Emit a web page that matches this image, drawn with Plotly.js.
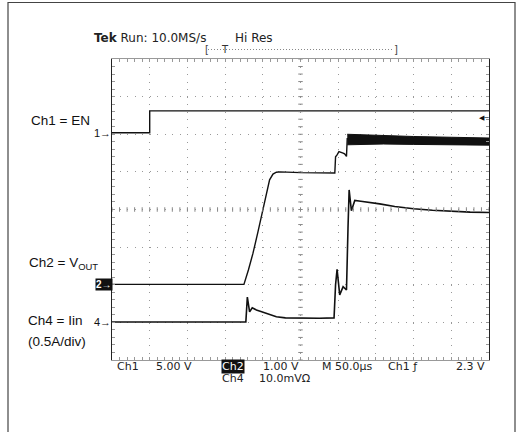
<!DOCTYPE html>
<html><head><meta charset="utf-8">
<script src="https://cdn.plot.ly/plotly-3.0.1.min.js"></script>
<style>html,body{margin:0;padding:0;background:#fff;}#chart{width:517px;height:432px;}</style>
</head><body><div id="chart"></div>
<script>
// Horizontal: divisions (50 us/div), vertical: divisions on screen (0 = bottom)
const ch1X = [0, 1.0, 1.0, 10];
const ch1Y = [6.04, 6.04, 6.62, 6.62];

const ch2X = [0, 3.5, 3.62, 3.74, 3.87, 4.0, 4.1, 4.18, 4.27, 4.36, 4.45, 5.0, 5.91, 5.93, 5.97, 6.02, 6.13, 6.17, 6.22, 6.24];
const ch2Y = [2.01, 2.01, 2.4, 2.84, 3.4, 3.99, 4.45, 4.79, 4.94, 4.99, 5.0, 4.98, 4.97, 5.4, 5.45, 5.54, 5.5, 5.48, 5.41, 5.9];

const ch2BandX = [6.24, 6.5, 7.2, 8.0, 9.0, 9.75, 10];
const ch2BandTop = [6.0, 5.99, 5.96, 5.94, 5.92, 5.9, 5.9];
const ch2BandBot = [5.72, 5.73, 5.74, 5.73, 5.72, 5.72, 5.71];

const ch4X = [0, 3.55, 3.59, 3.65, 3.72, 3.83, 3.95, 4.1, 4.25, 4.36, 4.6, 5.0, 5.5, 5.89, 5.93, 5.97, 6.04, 6.13, 6.22, 6.26, 6.29, 6.35, 6.44, 6.6, 6.8, 7.1, 7.5, 8.0, 8.5, 9.0, 9.5, 10];
const ch4Y = [1.01, 1.01, 1.67, 1.28, 1.39, 1.33, 1.29, 1.24, 1.18, 1.15, 1.12, 1.11, 1.11, 1.12, 2.0, 2.41, 1.73, 1.95, 1.86, 3.5, 4.52, 3.97, 4.24, 4.22, 4.2, 4.15, 4.08, 4.02, 3.98, 3.95, 3.93, 3.92];

const headerText = ['<b>Tek</b> Run: 10.0MS/s', 'Hi Res'];
const chanLabels = ['Ch1 = EN', 'Ch2 = V<sub>OUT</sub>', 'Ch4 = Iin', '(0.5A/div)'];
const bottomRow1 = ['Ch1', '5.00 V', 'Ch2', '1.00 V', 'M 50.0µs', 'Ch1 ƒ', '2.3 V'];
const bottomRow2 = ['Ch4', '10.0mVΩ'];

const L = 112, T = 59, W = 377, H = 301;
const px = x => (x - L) / W;
const py = y => (T + H - y) / H;
const scopeFont = {family: 'DejaVu Sans', size: 11, color: '#222'};
const headFont = {family: 'DejaVu Sans', size: 12, color: '#222'};
const labelFont = {family: 'Liberation Sans, Arial', size: 13.5, color: '#111'};

function ann(text, x, y, font, extra) {
  return Object.assign({text: text, xref: 'paper', yref: 'paper', x: px(x), y: py(y),
    xanchor: 'left', yanchor: 'middle', showarrow: false, font: font, borderpad: 0}, extra || {});
}

const annotations = [
  ann(headerText[0], 93, 38, headFont),
  ann(headerText[1], 234, 38, headFont),
  ann('[', 204, 49, {family: 'DejaVu Sans', size: 10, color: '#444'}),
  ann(']', 393, 49, {family: 'DejaVu Sans', size: 10, color: '#444'}),
  ann('T', 220, 49, {family: 'DejaVu Sans', size: 10, color: '#333'}),
  ann(chanLabels[0], 30, 120, labelFont),
  ann(chanLabels[1], 28, 263, labelFont),
  ann(chanLabels[2], 27, 320, labelFont),
  ann(chanLabels[3], 27, 341, labelFont),
  ann('1→', 112, 133, {family: 'Liberation Sans', size: 11, color: '#111'}, {xanchor: 'right'}),
  ann('<b>2→</b>', 113, 284, {family: 'Liberation Sans', size: 10, color: '#fff'}, {xanchor: 'right', bgcolor: '#111'}),
  ann('4→', 112, 322, {family: 'Liberation Sans', size: 11, color: '#111'}, {xanchor: 'right'}),
  ann('◀─', 478, 118, {family: 'DejaVu Sans', size: 7, color: '#111'}),
  ann(bottomRow1[0], 116, 366, scopeFont),
  ann(bottomRow1[1], 155, 366, scopeFont),
  ann(bottomRow1[2], 221, 366, {family: 'DejaVu Sans', size: 11, color: '#fff'}, {bgcolor: '#111'}),
  ann(bottomRow1[3], 262, 366, scopeFont),
  ann(bottomRow1[4], 321, 366, scopeFont),
  ann(bottomRow1[5], 387, 366, scopeFont),
  ann(bottomRow1[6], 455, 366, scopeFont),
  ann(bottomRow2[0], 221, 378, scopeFont),
  ann(bottomRow2[1], 258, 378, scopeFont)
];

const shapes = [
  {type: 'rect', xref: 'paper', yref: 'paper', x0: px(8), x1: px(515), y0: py(450), y1: py(2.5),
   line: {color: '#444', width: 1.2}, fillcolor: 'rgba(0,0,0,0)'},
  {type: 'line', xref: 'paper', yref: 'paper', x0: px(208), x1: px(394), y0: py(49.5), y1: py(49.5),
   line: {color: '#888', width: 1, dash: '1px,2px'}}
];
// center graticule cross ticks
for (let i = 0; i <= 50; i++) {
  shapes.push({type: 'line', xref: 'x', yref: 'y', x0: i * 0.2, x1: i * 0.2, y0: 3.94, y1: 4.06,
    line: {color: '#888', width: 1}});
}
for (let j = 0; j <= 40; j++) {
  shapes.push({type: 'line', xref: 'x', yref: 'y', x0: 4.94, x1: 5.06, y0: j * 0.2, y1: j * 0.2,
    line: {color: '#888', width: 1}});
}

const traceLine = {color: '#111', width: 1.4};
const data = [
  {x: ch1X, y: ch1Y, mode: 'lines', line: traceLine, name: 'Ch1 = EN'},
  {x: ch2X, y: ch2Y, mode: 'lines', line: traceLine, name: 'Ch2 = VOUT'},
  {x: ch2BandX, y: ch2BandBot, mode: 'lines', line: {color: '#111', width: 1}, name: 'Ch2 band low'},
  {x: ch2BandX, y: ch2BandTop, mode: 'lines', line: {color: '#111', width: 1}, fill: 'tonexty', fillcolor: '#111', name: 'Ch2 band high'},
  {x: ch4X, y: ch4Y, mode: 'lines', line: {color: '#111', width: 1.6}, name: 'Ch4 = Iin'}
];

const axisCommon = {
  showticklabels: false, showline: true, mirror: 'allticks', ticks: 'inside', ticklen: 3,
  tickcolor: '#999', dtick: 1, tick0: 0, zeroline: false, fixedrange: true,
  showgrid: true, gridcolor: '#999', gridwidth: 1, griddash: '1px,6.53px',
  minor: {dtick: 0.2, ticks: 'inside', ticklen: 3, tickcolor: '#999', showgrid: false}
};

const layout = {
  width: 517, height: 432,
  margin: {l: L, r: 517 - L - W, t: T, b: 432 - T - H},
  paper_bgcolor: '#fff', plot_bgcolor: '#fff',
  showlegend: false,
  xaxis: Object.assign({}, axisCommon, {range: [0, 10], linecolor: '#999', linewidth: 1.2}),
  yaxis: Object.assign({}, axisCommon, {range: [0, 8], linecolor: '#222', linewidth: 1.2}),
  annotations: annotations,
  shapes: shapes
};

Plotly.newPlot('chart', data, layout, {staticPlot: true, displayModeBar: false});
</script>
</body></html>
